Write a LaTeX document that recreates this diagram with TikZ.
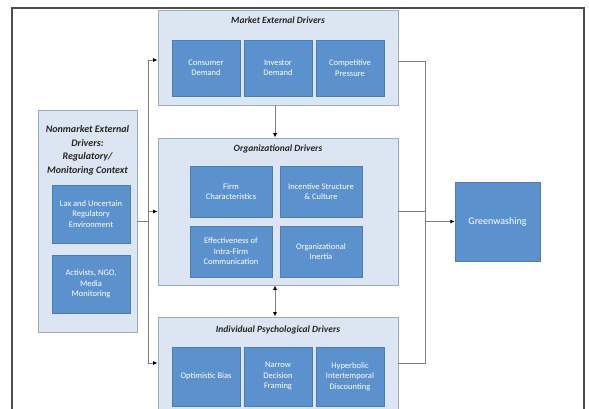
\documentclass[tikz,border=0pt]{standalone}
\usepackage{fontspec}
\setmainfont{Carlito}
\usetikzlibrary{arrows.meta}
\definecolor{outerfill}{HTML}{DCE6F2}
\definecolor{outerdraw}{HTML}{9AAAC0}
\definecolor{subfill}{HTML}{5B92CD}
\definecolor{subdraw}{HTML}{4A7EB8}
\definecolor{linegray}{HTML}{7F7F7F}
\begin{document}
\begin{tikzpicture}[x=1pt,y=-1pt,
 container/.style={draw=outerdraw, fill=outerfill, line width=0.8pt, inner sep=0pt},
 subbox/.style={draw=subdraw, fill=subfill, text=white, font=\fontsize{8.5}{10.5}\selectfont, align=center, inner sep=1pt},
 titletext/.style={font=\fontsize{9.5}{11}\selectfont\bfseries\itshape, text=black!85},
 conn/.style={draw=linegray, line width=0.9pt},
 tip/.tip={Latex[length=4.5pt,width=4pt,color=black]},
 arr/.style={conn, -tip}
]
\useasboundingbox (0,0) rectangle (589,409);
\clip (0,0) rectangle (589,409);
\fill[white] (0,0) rectangle (589,409);
% frame
\draw[draw=black!70, line width=1.3pt] (12,8) rectangle (584,440);

% market external drivers
\node[container, minimum width=240pt, minimum height=95pt] (mkt) at (278,57.5) {};
\node[titletext] (mktT) at (278,20) {Market External Drivers};
\node[subbox, minimum width=68pt, minimum height=56pt] (m1) at (206,68) {Consumer\\Demand};
\node[subbox, minimum width=68pt, minimum height=56pt] (m2) at (278,68) {Investor\\Demand};
\node[subbox, minimum width=68pt, minimum height=56pt] (m3) at (350,68) {Competitive\\Pressure};

% organizational drivers
\node[container, minimum width=240pt, minimum height=147pt] (org) at (278,211.5) {};
\node[titletext] (orgT) at (278,149) {Organizational Drivers};
\node[subbox, minimum width=82pt, minimum height=51pt] (o1) at (231,191.5) {Firm\\Characteristics};
\node[subbox, minimum width=82pt, minimum height=51pt] (o2) at (321,191.5) {Incentive Structure\\\& Culture};
\node[subbox, minimum width=82pt, minimum height=51pt] (o3) at (231,251.5) {Effectiveness of\\Intra-Firm\\Communication};
\node[subbox, minimum width=82pt, minimum height=51pt] (o4) at (321,251.5) {Organizational\\Inertia};

% individual psychological drivers
\node[container, minimum width=240pt, minimum height=98pt] (ind) at (278,366) {};
\node[titletext] (indT) at (278,330) {Individual Psychological Drivers};
\node[subbox, minimum width=68pt, minimum height=59pt] (i1) at (206,376.5) {Optimistic Bias};
\node[subbox, minimum width=68pt, minimum height=59pt] (i2) at (278,376.5) {Narrow\\Decision\\Framing};
\node[subbox, minimum width=68pt, minimum height=59pt] (i3) at (350,376.5) {Hyperbolic\\Intertemporal\\Discounting};

% nonmarket external drivers
\node[container, minimum width=99pt, minimum height=222pt] (left) at (87.5,221) {};
\node[font=\fontsize{10}{13.5}\selectfont\bfseries\itshape, text=black!85, align=center] (leftT) at (87.5,150.5)
  {Nonmarket External\\Drivers:\\Regulatory/\\Monitoring Context};
\node[subbox, minimum width=78pt, minimum height=58pt] (l1) at (91,214) {Lax and Uncertain\\Regulatory\\Environment};
\node[subbox, minimum width=78pt, minimum height=58pt] (l2) at (91,284) {Activists, NGO,\\Media\\Monitoring};

% greenwashing
\node[subbox, minimum width=85pt, minimum height=79pt, font=\fontsize{10}{12}\selectfont] (gw) at (497.5,221.5) {Greenwashing};

% left spine
\coordinate (sT) at (148,60);
\coordinate (sM) at (148,211.5);
\coordinate (sB) at (148,363);
\draw[conn] (sT) -- (sB);
\draw[conn] (left.east) -- (left.east -| sT);
\draw[arr] (sT) -- (sT -| mkt.west);
\draw[arr] (sM) -- (org.west);
\draw[arr] (sB) -- (sB -| ind.west);

% vertical links
\draw[arr] ([xshift=-3pt]mkt.south) -- ([xshift=-3pt]org.north);
\draw[conn, tip-tip] ([xshift=-3pt]org.south) -- ([xshift=-3pt]ind.north);

% right spine
\coordinate (rT) at (425,61);
\coordinate (rB) at (425,363);
\draw[conn] (rT -| mkt.east) -- (rT) -- (rB) -- (rB -| ind.east);
\draw[conn] (org.east) -- (org.east -| rT);
\draw[arr] (gw.west -| rT) -- (gw.west);
\end{tikzpicture}
\end{document}
